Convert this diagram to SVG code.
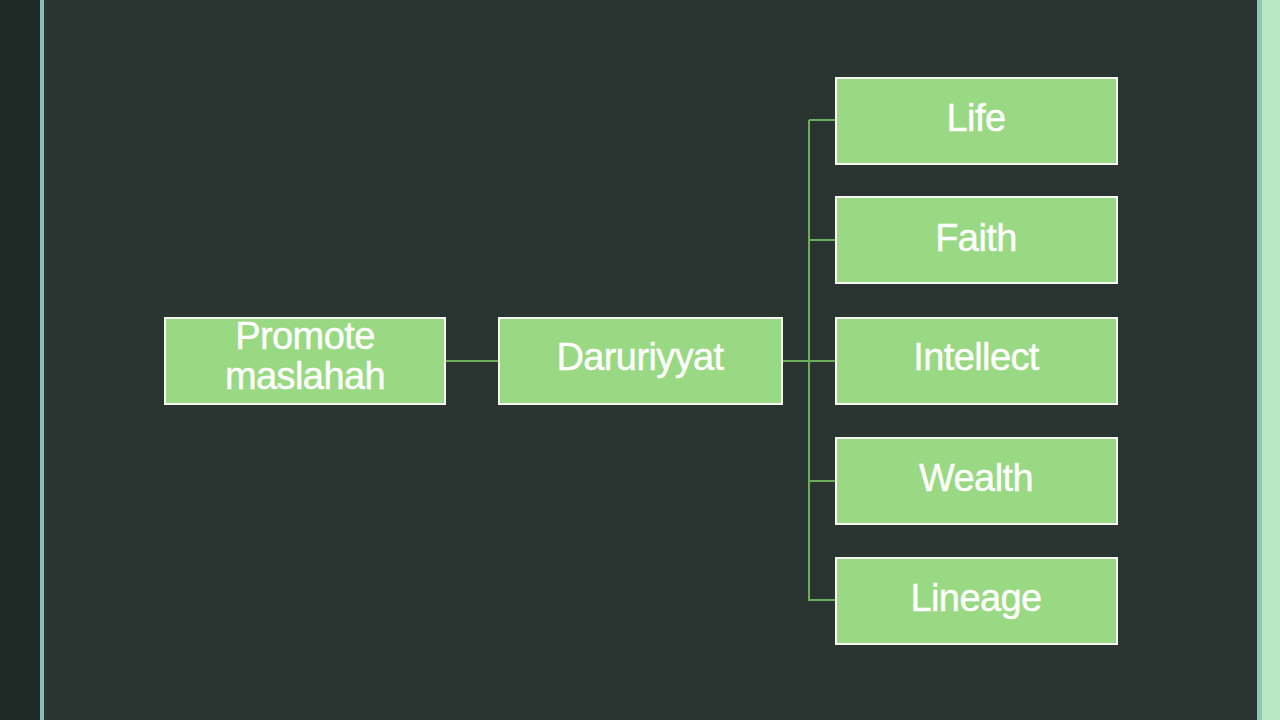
<svg xmlns="http://www.w3.org/2000/svg" width="1280" height="720" viewBox="0 0 1280 720">
<style>
.box{fill:#9ad983;stroke:#f4f8f0;stroke-width:2}
.lbl{font-family:"Liberation Sans",Arial,sans-serif;font-size:38px;fill:#ffffff;text-anchor:middle;letter-spacing:-0.6px;stroke:#ffffff;stroke-width:0.4}
.con{stroke:#6cae5c;stroke-width:2;fill:none}
</style>
<rect x="0" y="0" width="1280" height="720" fill="#2a3430"/>
<rect x="0" y="0" width="40" height="720" fill="#1f2926"/>
<rect x="40" y="0" width="4" height="720" fill="#86bfb6"/>
<rect x="1257" y="0" width="5" height="720" fill="#8cc4b6"/>
<rect x="1262" y="0" width="18" height="720" fill="#b9e8c4"/>
<g id="connectors">
<line class="con" x1="445" y1="361" x2="499" y2="361"/>
<line class="con" x1="782" y1="361" x2="809" y2="361"/>
<line class="con" x1="809" y1="120" x2="809" y2="601"/>
<line class="con" x1="809" y1="120" x2="836" y2="120"/>
<line class="con" x1="809" y1="240" x2="836" y2="240"/>
<line class="con" x1="809" y1="361" x2="836" y2="361"/>
<line class="con" x1="809" y1="481" x2="836" y2="481"/>
<line class="con" x1="809" y1="600" x2="836" y2="600"/>
</g>
<g id="promote">
<rect class="box" x="165" y="318" width="280" height="86"/>
<text class="lbl" x="305" y="349">Promote</text>
<text class="lbl" x="305" y="389">maslahah</text>
</g>
<g id="daruriyyat">
<rect class="box" x="499" y="318" width="283" height="86"/>
<text class="lbl" x="640" y="370">Daruriyyat</text>
</g>
<g id="life">
<rect class="box" x="836" y="78" width="281" height="86"/>
<text class="lbl" x="976" y="131">Life</text>
</g>
<g id="faith">
<rect class="box" x="836" y="197" width="281" height="86"/>
<text class="lbl" x="976" y="251">Faith</text>
</g>
<g id="intellect">
<rect class="box" x="836" y="318" width="281" height="86"/>
<text class="lbl" x="976" y="370">Intellect</text>
</g>
<g id="wealth">
<rect class="box" x="836" y="438" width="281" height="86"/>
<text class="lbl" x="976" y="491">Wealth</text>
</g>
<g id="lineage">
<rect class="box" x="836" y="558" width="281" height="86"/>
<text class="lbl" x="976" y="611">Lineage</text>
</g>
</svg>
